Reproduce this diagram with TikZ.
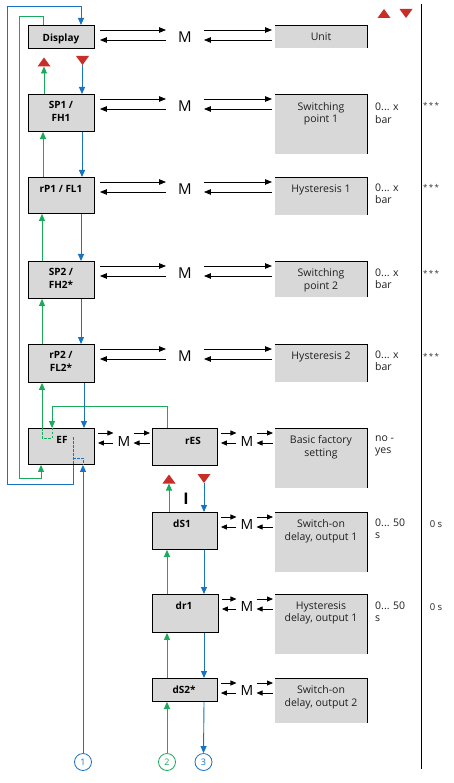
\documentclass[tikz,border=0pt]{standalone}
\usepackage{fontspec}
\setmainfont{Open Sans}
\usetikzlibrary{arrows.meta,calc}
\definecolor{cblue}{RGB}{25,115,195}
\definecolor{cgreen}{RGB}{25,170,90}
\definecolor{cred}{RGB}{200,45,40}
\definecolor{cgray}{RGB}{216,216,216}
\newcommand\mtop[3]{%
 \draw[arr] ($(#1.north east)+(5,5)$) -- ($(#2.west|-#1.north)+(-12,5)$);
 \draw[arr] ($(#2.west|-#1.north)+(-12,15)$) -- ($(#1.north east)+(5,15)$);
 \draw[arr] ($(#2.east|-#1.north)+(12,5)$) -- ($(#3.north west)+(-3,5)$);
 \draw[arr] ($(#3.north west)+(-3,15)$) -- ($(#2.east|-#1.north)+(12,15)$);}
\newcommand\mlow[3]{%
 \draw[sarr] ($(#1.north east)+(3,5)$) -- ($(#2.west|-#1.north)+(-4,5)$);
 \draw[sarr] ($(#2.west|-#1.north)+(-4,15)$) -- ($(#1.north east)+(3,15)$);
 \draw[sarr] ($(#2.east|-#1.north)+(3,5)$) -- ($(#3.north west)+(-2,5)$);
 \draw[sarr] ($(#3.north west)+(-2,15)$) -- ($(#2.east|-#1.north)+(3,15)$);}
\newcommand\rborder[1]{\draw[line width=0.9pt] (#1.north west) -- (#1.north east) -- (#1.south east);}
\begin{document}
\begin{tikzpicture}[x=1pt,y=-1pt,
  lbox/.style={draw=black,line width=0.9pt,fill=cgray,minimum width=66pt,inner sep=0pt,anchor=north west},
  rbox/.style={fill=cgray,minimum width=92pt,inner sep=0pt,anchor=north west},
  ltext/.style={anchor=north,inner sep=0pt,align=center,font=\fontsize{10}{12.5}\selectfont\bfseries,execute at begin node={\strut}},
  rtext/.style={anchor=north,inner sep=0pt,align=center,text=black!88,font=\fontsize{10.5}{12.5}\selectfont,execute at begin node={\strut}},
  val/.style={anchor=north west,inner sep=0pt,align=left,text=black!88,font=\fontsize{10.5}{12.5}\selectfont,execute at begin node={\strut}},
  star/.style={inner sep=0pt,text=black!80,font=\fontsize{8}{8}\selectfont},
  zval/.style={inner sep=0pt,text=black!85,font=\fontsize{9.5}{9.5}\selectfont},
  mlab/.style={inner sep=0pt,font=\fontsize{15}{15}\selectfont},
  mlabs/.style={inner sep=0pt,font=\fontsize{14}{14}\selectfont},
  arr/.style={line width=0.8pt,-{Triangle[length=7pt,width=5.5pt]}},
  sarr/.style={line width=0.8pt,-{Triangle[length=6pt,width=5pt]}},
  garr/.style={cgreen,line width=0.9pt,-{Triangle[length=7pt,width=6pt]}},
  barr/.style={cblue,line width=0.9pt,-{Triangle[length=7pt,width=6pt]}},
  gdash/.style={cgreen,line width=0.8pt,dash pattern=on 2.5pt off 1.5pt},
  bdash/.style={cblue,line width=0.8pt,dash pattern=on 2.5pt off 1.5pt},
  circ/.style={circle,minimum size=17pt,inner sep=0pt,line width=0.8pt,fill=white,font=\fontsize{9}{9}\selectfont},
  tup/.pic={\fill[cred] (-6.5,4.5) -- (6.5,4.5) -- (0,-4.5) -- cycle;},
  tdn/.pic={\fill[cred] (-6.5,-4.5) -- (6.5,-4.5) -- (0,4.5) -- cycle;}
]
\useasboundingbox (0,0) rectangle (454,783);
\fill[white] (0,0) rectangle (454,783);
% left column boxes
\node[lbox,minimum height=23pt] (disp) at (28,25) {};
\node[lbox,minimum height=37pt] (sp1) at (28,94) {};
\node[lbox,minimum height=36pt] (rp1) at (28,177) {};
\node[lbox,minimum height=37pt] (sp2) at (28,261) {};
\node[lbox,minimum height=38pt] (rp2) at (28,344) {};
\node[lbox,minimum height=36pt] (ef) at (28,428) {};
\node[lbox,minimum width=65pt,minimum height=37pt] (res) at (152,428) {};
\node[lbox,minimum width=65pt,minimum height=37pt] (ds1) at (152,512) {};
\node[lbox,minimum width=66pt,minimum height=38pt] (dr1) at (152,594) {};
\node[lbox,minimum width=65pt,minimum height=23pt] (ds2) at (152,678) {};
\node[ltext] (dispt) at (61,25+7.2) {Display};
\node[ltext] (sp1t) at (61,94+7.2) {SP1 /\\FH1};
\node[ltext] (rp1t) at (61,177+6.5) {rP1 / FL1};
\node[ltext] (sp2t) at (61,261+7.2) {SP2 /\\FH2*};
\node[ltext] (rp2t) at (61,344+7.2) {rP2 /\\FL2*};
\node[ltext] (eft) at (62,428+6.5) {EF};
\node[ltext] (rest) at (193,428+7.5) {rES};
\node[ltext] (ds1t) at (182,512+6.5) {dS1};
\node[ltext] (dr1t) at (184,594+7) {dr1};
\node[ltext] (ds2t) at (184,678+6.5) {dS2*};
% right boxes
\node[rbox,minimum height=23pt] (unit) at (275,25) {};
\node[rbox,minimum height=60pt] (swp1) at (275,94) {};
\node[rbox,minimum height=38pt] (hys1) at (275,177) {};
\node[rbox,minimum height=36pt] (swp2) at (275,261) {};
\node[rbox,minimum height=38pt] (hys2) at (275,344) {};
\node[rbox,minimum height=60pt] (bfs) at (275,428) {};
\node[rbox,minimum height=60pt] (sod1) at (275,512) {};
\node[rbox,minimum height=60pt] (hd1) at (275,594) {};
\node[rbox,minimum height=45pt] (sod2) at (275,678) {};
\rborder{unit}\rborder{swp1}\rborder{hys1}\rborder{swp2}\rborder{hys2}
\rborder{bfs}\rborder{sod1}\rborder{hd1}\rborder{sod2}
\node[rtext] (unitt) at (321,25+7) {Unit};
\node[rtext] (swp1t) at (321,94+8) {Switching\\point 1};
\node[rtext] (hys1t) at (321,177+7) {Hysteresis 1};
\node[rtext] (swp2t) at (321,261+7.5) {Switching\\point 2};
\node[rtext] (hys2t) at (321,344+7) {Hysteresis 2};
\node[rtext] (bfst) at (321,428+7.5) {Basic factory\\setting};
\node[rtext] (sod1t) at (321,512+7.5) {Switch-on\\delay, output 1};
\node[rtext] (hd1t) at (321,594+7.5) {Hysteresis\\delay, output 1};
\node[rtext] (sod2t) at (321,678+7.5) {Switch-on\\delay, output 2};
% M nodes
\node[mlab] (m1) at (185,37) {M};
\node[mlab] (m2) at (185,106) {M};
\node[mlab] (m3) at (185,189) {M};
\node[mlab] (m4) at (185,273) {M};
\node[mlab] (m5) at (185,356) {M};
\node[mlabs] (m6) at (124,441) {M};
\node[mlabs] (m7) at (247,441) {M};
\node[mlabs] (m8) at (247,524) {M};
\node[mlabs] (m9) at (247,606) {M};
\node[mlabs] (m10) at (247,690) {M};
\mtop{disp}{m1}{unit}
\mtop{sp1}{m2}{swp1}
\mtop{rp1}{m3}{hys1}
\mtop{sp2}{m4}{swp2}
\mtop{rp2}{m5}{hys2}
\mlow{ef}{m6}{res}
\mlow{res}{m7}{bfs}
\mlow{ds1}{m8}{sod1}
\mlow{dr1}{m9}{hd1}
\mlow{ds2}{m10}{sod2}
% values
\node[val] (v1) at (375,111.5-8.75) {0... x\\bar};
\node[val] (v2) at (375,192-8.75) {0... x\\bar};
\node[val] (v3) at (375,277-8.75) {0... x\\bar};
\node[val] (v4) at (375,359-8.75) {0... x\\bar};
\node[val] (v5) at (375,444-8.75) {no -\\yes};
\node[val] (v6) at (375,527-8.75) {0... 50\\s};
\node[val] (v7) at (375,610-8.75) {0... 50\\s};
\node[star] (s1) at (431,105) {*\,*\,*};
\node[star] (s2) at (431,187) {*\,*\,*};
\node[star] (s3) at (431,273) {*\,*\,*};
\node[star] (s4) at (431,356) {*\,*\,*};
\node[zval] (z1) at (436,524) {0 s};
\node[zval] (z2) at (436,607) {0 s};
\node[inner sep=0pt,font=\fontsize{16}{16}\selectfont\bfseries] (ilab) at (186,499) {I};
% separator line
\draw[line width=0.9pt] (421.5,4) -- (421.5,769);
% red triangles
\pic at (384,13.5) {tup};
\pic at (406,13.5) {tdn};
\pic at (44,62) {tup};
\pic at (82.5,60.5) {tdn};
\pic at (169,479) {tup};
\pic at (204,478.5) {tdn};
\coordinate (t1b) at (44,66.5);
\coordinate (t2b) at (82,65);
\coordinate (t3b) at (169,483.5);
\coordinate (t4b) at (204,483);
% circles
\node[circ,draw=cblue,text=cblue] (c1) at (83,762) {1};
\node[circ,draw=cgreen,text=cgreen] (c2) at (167,762) {2};
\node[circ,draw=cblue,text=cblue] (c3) at (203.5,762) {3};
% green connectors (up)
\draw[garr] (sp1.north -| 44,0) -- (t1b);
\draw[garr] (rp1.north -| 43,0) -- (sp1.south -| 43,0);
\draw[garr] (sp2.north -| 42,0) -- (rp1.south -| 42,0);
\draw[garr] (rp2.north -| 42,0) -- (sp2.south -| 42,0);
\draw[garr] (ef.north -| 42,0) -- (rp2.south -| 42,0);
\draw[garr] (res.north -| 167,0) -- (167,406) -- (52,406) -- (ef.north -| 52,0);
\draw[garr] (disp.north -| 43,0) -- (43,16) -- (19,16) -- (19,478) -- (41,478) -- (ef.south -| 41,0);
\draw[garr] (ds1.north -| 169,0) -- (t3b);
\draw[garr] (dr1.north -| 167,0) -- (ds1.south -| 167,0);
\draw[garr] (ds2.north -| 167,0) -- (dr1.south -| 167,0);
\draw[garr] (c2.north) -- (ds2.south -| 167,0);
% blue connectors (down)
\draw[barr] (t2b) -- (sp1.north -| 82,0);
\draw[barr] (sp1.south -| 82,0) -- (rp1.north -| 82,0);
\draw[barr] (rp1.south -| 81,0) -- (sp2.north -| 81,0);
\draw[barr] (sp2.south -| 81,0) -- (rp2.north -| 81,0);
\draw[barr] (rp2.south -| 84,0) -- (ef.north -| 84,0);
\draw[barr] (ef.south -| 73,0) -- (73,484) -- (7,484) -- (7,6) -- (81,6) -- (disp.north -| 81,0);
\draw[barr] (c1.north) -- (ef.south -| 83,0);
\draw[barr] (t4b) -- (ds1.north -| 204,0);
\draw[barr] (ds1.south -| 204,0) -- (dr1.north -| 204,0);
\draw[barr] (dr1.south -| 204,0) -- (ds2.north -| 204,0);
\draw[barr] (ds2.south -| 204,0) -- (c3.north);
% dashed paths inside EF
\draw[gdash] (ef.north -| 42,0) -- (42,438) -- (52,438) -- (ef.north -| 52,0);
\draw[bdash] (73,437) -- (ef.south -| 73,0);
\draw[bdash] (73,458) -- (83,458) -- (ef.south -| 83,0);
\end{tikzpicture}
\end{document}
